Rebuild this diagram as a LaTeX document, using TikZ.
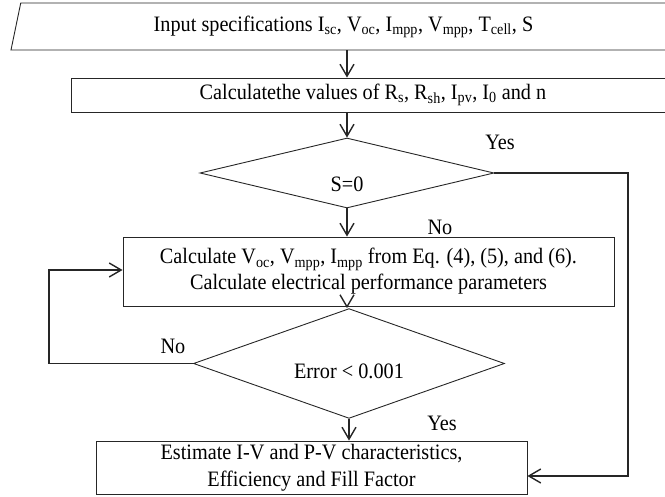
\documentclass[tikz,border=0pt]{standalone}
\usepackage{fontspec}
\setmainfont{Liberation Serif}[FakeStretch=0.92]
\usetikzlibrary{shapes.geometric,arrows.meta,positioning}

\tikzstyle{io} = [trapezium, trapezium left angle=66, trapezium right angle=114, trapezium stretches body, draw=black!85, line width=0.9pt, inner sep=0pt]
\tikzstyle{proc} = [rectangle, draw=black!85, line width=0.9pt, align=center, inner sep=0pt]
\tikzstyle{dec} = [diamond, draw=black!85, line width=0.9pt, inner sep=0pt]
\tikzstyle{flow} = [-{Straight Barb[length=12pt,width=14pt]}, line width=1.4pt, black!85]

\begin{document}
\begin{tikzpicture}[x=1pt, y=-1pt, font=\fontsize{22}{29}\selectfont]
\useasboundingbox (0,0) rectangle (665,497);
\clip (0,0) rectangle (665,497);

% Define nodes
\node[io, minimum width=665pt, minimum height=47pt]     (in)   at (343.5,26.5) {Input specifications I\textsubscript{sc}, V\textsubscript{oc}, I\textsubscript{mpp}, V\textsubscript{mpp}, T\textsubscript{cell}, S};
\node[proc, minimum width=604pt, minimum height=34pt]   (calc) at (373,95)     {Calculatethe values of R\textsubscript{s}, R\textsubscript{sh}, I\textsubscript{pv}, I\textsubscript{0} and n};
\node[dec, minimum width=294pt, minimum height=70pt]    (s)    at (347,173)    {\raisebox{-19pt}[0pt][0pt]{S=0}};
\node[proc, minimum width=491pt, minimum height=69pt]   (est)  at (368.5,271.5) {\raisebox{-3pt}{Calculate V\textsubscript{oc}, V\textsubscript{mpp}, I\textsubscript{mpp} from Eq. (4), (5), and (6).}\\ Calculate electrical performance parameters};
\node[dec, minimum width=311pt, minimum height=67pt]    (err)  at (349,363.5)  {\raisebox{-15pt}[0pt][0pt]{Error < 0.001}};
\node[proc, minimum width=431pt, minimum height=53pt]   (out)  at (311.5,467.5) {\raisebox{-3pt}{Estimate I-V and P-V characteristics,}\\[1pt] Efficiency and Fill Factor};

\node (yes1) at (500,142) {Yes};
\node (no1)  at (440,227) {No};
\node (no2)  at (173,346) {No};
\node (yes2) at (442,423) {Yes};

\coordinate (rt) at (628,476);
\coordinate (lt) at (49,270);

% Edges
\draw[flow] (in.south -| s.north)  -- (calc.north -| s.north);
\draw[flow] (calc.south -| s.north) -- (s.north);
\draw[flow] (s.south) -- (s.south |- est.north);
\draw[flow] (est.south -| s.south) -- (err.north -| s.south);
\draw[flow] (err.south) -- (err.south |- out.north);
\draw[flow] (s.east) -| (rt) -- (rt -| out.east);
\draw[flow] (err.west) -| (lt) -- (lt -| est.west);
\end{tikzpicture}
\end{document}
